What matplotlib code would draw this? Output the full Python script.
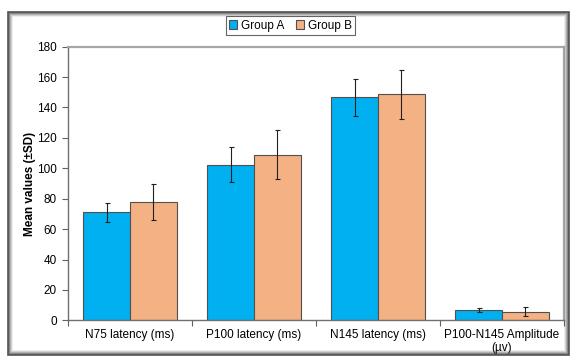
import matplotlib.pyplot as plt
import matplotlib.patches as patches
import numpy as np

plt.rcParams['font.family'] = ['Liberation Sans', 'DejaVu Sans']

categories = ['N75 latency (ms)', 'P100 latency (ms)', 'N145 latency (ms)',
              'P100-N145 Amplitude\n(µv)']
group_a = [71.0, 102.5, 146.7, 6.8]
group_a_sd = [6.0, 11.5, 12.0, 1.5]
group_b = [77.8, 108.9, 148.6, 5.7]
group_b_sd = [11.8, 16.2, 16.0, 3.0]
yticks = [0, 20, 40, 60, 80, 100, 120, 140, 160, 180]

fig = plt.figure(figsize=(5.71, 3.58), dpi=100)

# outer chart frame with soft shadow
for i, a in enumerate([0.9, 0.55, 0.35, 0.2, 0.1]):
    d = i * 1.0
    fig.patches.append(patches.Rectangle(
        ((8 + d) / 571, (3 + d) / 358), (561 - 2 * d) / 571, (343 - 2 * d) / 358,
        transform=fig.transFigure, fill=False,
        edgecolor=(0.25, 0.25, 0.25, a), linewidth=1.2))

ax = fig.add_axes([68 / 571, 1 - 320.3 / 358, 496 / 571, 273.6 / 358])

x = np.arange(len(categories))
w = 0.377
ax.bar(x - w / 2, group_a, w, color='#00B0F0', edgecolor='#505050',
       linewidth=0.8, label='Group A', zorder=2)
ax.bar(x + w / 2, group_b, w, color='#F4B183', edgecolor='#505050',
       linewidth=0.8, label='Group B', zorder=2)
ax.errorbar(x - w / 2, group_a, yerr=group_a_sd, fmt='none', ecolor='#202020',
            elinewidth=0.8, capsize=1.8, capthick=0.8, zorder=3)
ax.errorbar(x + w / 2, group_b, yerr=group_b_sd, fmt='none', ecolor='#202020',
            elinewidth=0.8, capsize=1.8, capthick=0.8, zorder=3)

ax.set_xlim(-0.5, 3.5)
ax.set_ylim(0, 180)
ax.set_yticks(yticks)
ax.tick_params(axis='y', direction='out', length=4, width=0.8, color='#606060',
               labelsize=8.5, pad=4)

# category boundary ticks, labels centred under groups
ax.set_xticks(np.arange(-0.5, 4.0, 1.0))
ax.set_xticklabels([])
ax.tick_params(axis='x', which='major', direction='out', length=4, width=0.8,
               color='#606060')
ax.set_xticks(x, minor=True)
ax.set_xticklabels(categories, minor=True, fontsize=8.5)
ax.tick_params(axis='x', which='minor', length=0, pad=6)

for s in ['left', 'bottom']:
    ax.spines[s].set_color('#707070')
    ax.spines[s].set_linewidth(1.0)
for s in ['top', 'right']:
    ax.spines[s].set_color('#a6a6a6')
    ax.spines[s].set_linewidth(1.6)

ax.set_ylabel('Mean values (±SD)', fontsize=8.5, fontweight='bold', labelpad=1)

leg = ax.legend(loc='center', bbox_to_anchor=(290.5 / 571, 1 - 25.5 / 358),
                bbox_transform=fig.transFigure, ncol=2, fontsize=8.5,
                frameon=True, fancybox=False, handlelength=0.7, handleheight=0.7,
                handletextpad=0.3, columnspacing=1.0, borderpad=0.3,
                borderaxespad=0)
leg.get_frame().set_edgecolor('#404040')
leg.get_frame().set_linewidth(0.8)

fig.savefig('out.png', dpi=100)
